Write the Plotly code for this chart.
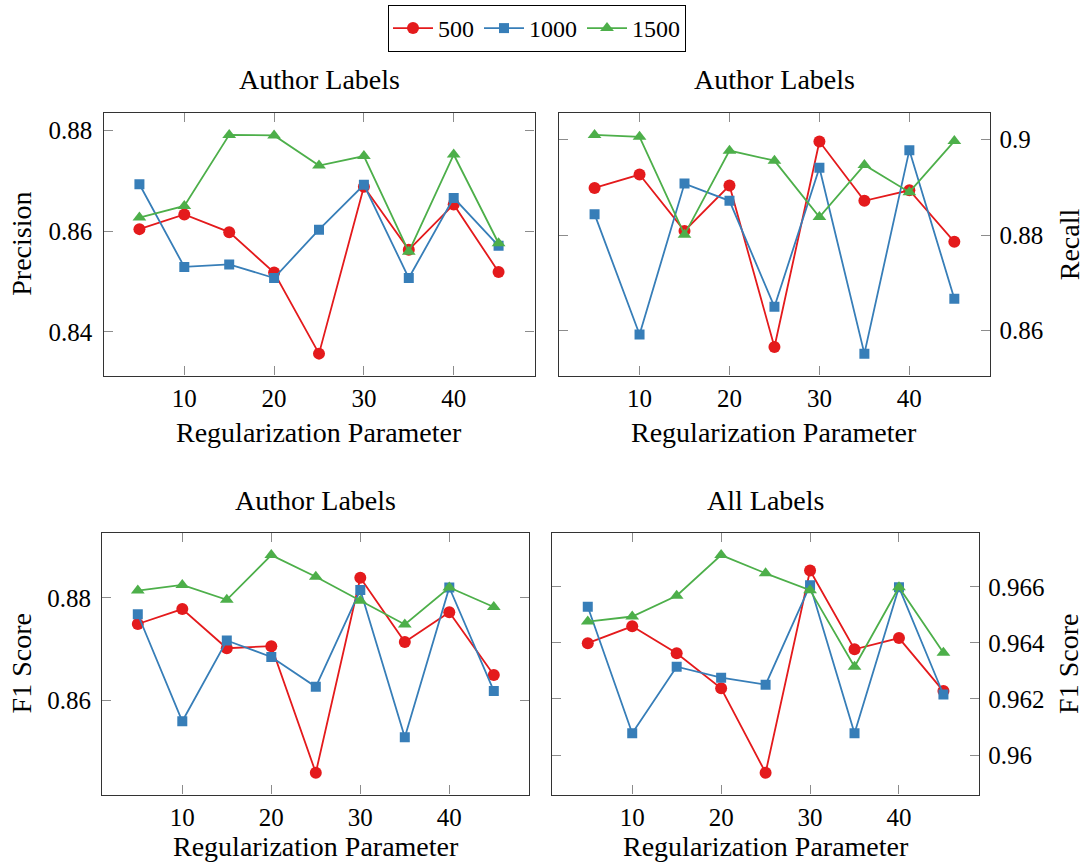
import plotly.graph_objects as go

W, H = 1088, 864

x_vals = [5, 10, 15, 20, 25, 30, 35, 40, 45]
series_names = ["500", "1000", "1500"]

precision_500 = [0.8604, 0.8633, 0.8598, 0.8518, 0.8357, 0.8688, 0.8563, 0.8653, 0.8519]
precision_1000 = [0.8693, 0.8529, 0.8534, 0.8507, 0.8603, 0.8692, 0.8507, 0.8666, 0.8571]
precision_1500 = [0.8627, 0.8650, 0.8791, 0.8790, 0.8730, 0.8749, 0.8559, 0.8752, 0.8576]

recall_500 = [0.8899, 0.8927, 0.8809, 0.8904, 0.8566, 0.8996, 0.8872, 0.8894, 0.8786]
recall_1000 = [0.8844, 0.8592, 0.8908, 0.8872, 0.8650, 0.8941, 0.8552, 0.8978, 0.8667]
recall_1500 = [0.9010, 0.9006, 0.8801, 0.8977, 0.8956, 0.8838, 0.8947, 0.8890, 0.8997]

f1_author_500 = [0.8749, 0.8778, 0.8702, 0.8706, 0.8460, 0.8839, 0.8714, 0.8772, 0.8650]
f1_author_1000 = [0.8768, 0.8560, 0.8717, 0.8685, 0.8627, 0.8815, 0.8529, 0.8820, 0.8619]
f1_author_1500 = [0.8814, 0.8825, 0.8796, 0.8883, 0.8841, 0.8794, 0.8748, 0.8820, 0.8782]

f1_all_500 = [0.96399, 0.96459, 0.96363, 0.96238, 0.95937, 0.96658, 0.96377, 0.96417, 0.96228]
f1_all_1000 = [0.96529, 0.96078, 0.96315, 0.96276, 0.96251, 0.96605, 0.96078, 0.96598, 0.96216]
f1_all_1500 = [0.96476, 0.96494, 0.96568, 0.96713, 0.96648, 0.96588, 0.96315, 0.96598, 0.96365]

x_ticks = [10, 20, 30, 40]
x_tick_text = ["10", "20", "30", "40"]
prec_ticks = [0.84, 0.86, 0.88]
prec_tick_text = ["0.84", "0.86", "0.88"]
rec_ticks = [0.86, 0.88, 0.90]
rec_tick_text = ["0.86", "0.88", "0.9"]
f1a_ticks = [0.86, 0.88]
f1a_tick_text = ["0.86", "0.88"]
f1b_ticks = [0.960, 0.962, 0.964, 0.966]
f1b_tick_text = ["0.96", "0.962", "0.964", "0.966"]

panel_titles = ["Author Labels", "Author Labels", "Author Labels", "All Labels"]
x_title = "Regularization Parameter"
y_titles = ["Precision", "Recall", "F1 Score", "F1 Score"]

colors = ["#e41a1c", "#377eb8", "#4daf4a"]
symbols = ["circle", "square", "triangle-up"]
msizes = [12, 10, 12]

FONT = "Liberation Serif"
TITLE_SIZE = 28
TICK_SIZE = 25

# panel boxes in pixels: (left, right, top, bottom)
panels = [
    dict(data=[precision_500, precision_1000, precision_1500], box=(103.5, 534.5, 113, 375.5),
         yt=prec_ticks, ytt=prec_tick_text, side="left", ytx=21.5, rowt=80, xtl=432),
    dict(data=[recall_500, recall_1000, recall_1500], box=(558.6, 990.3, 113, 375.5),
         yt=rec_ticks, ytt=rec_tick_text, side="right", ytx=1069, rowt=80, xtl=432),
    dict(data=[f1_author_500, f1_author_1000, f1_author_1500], box=(102.2, 529.4, 533.3, 794.5),
         yt=f1a_ticks, ytt=f1a_tick_text, side="left", ytx=21.5, rowt=500, xtl=846),
    dict(data=[f1_all_500, f1_all_1000, f1_all_1500], box=(552.2, 979, 533.3, 794.5),
         yt=f1b_ticks, ytt=f1b_tick_text, side="right", ytx=1069, rowt=500, xtl=846),
]

fig = go.Figure()
layout = dict(width=W, height=H, margin=dict(l=0, r=0, t=0, b=0, autoexpand=False),
              paper_bgcolor="white", plot_bgcolor="white",
              font=dict(family=FONT, size=TICK_SIZE, color="black"),
              showlegend=True, annotations=[])

for i, p in enumerate(panels):
    k = "" if i == 0 else str(i + 1)
    for j in range(3):
        fig.add_trace(go.Scatter(
            x=x_vals, y=p["data"][j], mode="lines+markers", name=series_names[j],
            legendgroup=series_names[j], showlegend=(i == 0),
            line=dict(color=colors[j], width=1.8),
            marker=dict(symbol=symbols[j], size=msizes[j], color=colors[j]),
            xaxis="x" + k, yaxis="y" + k))
    x0, x1, y0, y1 = p["box"]
    allv = [v for s in p["data"] for v in s]
    lo, hi = min(allv), max(allv)
    pad = 0.1 * (hi - lo)
    axcommon = dict(showgrid=False, zeroline=False, showline=True, linecolor="#333333",
                    linewidth=1.3, mirror="ticks", ticks="inside", ticklen=9,
                    tickcolor="#8c8c8c", tickwidth=1, automargin=False,
                    tickfont=dict(family=FONT, size=TICK_SIZE, color="black"))
    layout["xaxis" + k] = dict(axcommon, domain=[x0 / W, x1 / W], anchor="y" + k,
                               range=[1, 49], tickvals=x_ticks, ticktext=x_tick_text,
                               ticklabelstandoff=0)
    layout["yaxis" + k] = dict(axcommon, domain=[1 - y1 / H, 1 - y0 / H], anchor="x" + k,
                               range=[lo - pad, hi + pad], tickvals=p["yt"],
                               ticktext=p["ytt"], side=p["side"],
                               ticklabelstandoff=(5 if p["side"] == "left" else 3))
    xc = (x0 + x1) / 2 / W
    layout["annotations"].append(dict(
        text=panel_titles[i], x=xc, y=1 - p["rowt"] / H,
        xref="paper", yref="paper", xanchor="center", yanchor="middle",
        showarrow=False, font=dict(family=FONT, size=TITLE_SIZE, color="black")))
    layout["annotations"].append(dict(
        text=x_title, x=xc, y=1 - p["xtl"] / H,
        xref="paper", yref="paper", xanchor="center", yanchor="middle",
        showarrow=False, font=dict(family=FONT, size=TITLE_SIZE, color="black")))
    layout["annotations"].append(dict(
        text=y_titles[i], x=p["ytx"] / W, y=1 - (y0 + y1) / 2 / H,
        xref="paper", yref="paper", xanchor="center", yanchor="middle", textangle=-90,
        showarrow=False, font=dict(family=FONT, size=TITLE_SIZE, color="black")))

layout["legend"] = dict(orientation="h", x=537 / W, xanchor="center", y=1 - 5 / H, yanchor="top",
                        bordercolor="black", borderwidth=1, bgcolor="white",
                        font=dict(family=FONT, size=24), itemwidth=40,
                        tracegroupgap=0)
fig.update_layout(**layout)
fig.write_html("out.html", config={"displayModeBar": False},
               post_script="document.body.style.margin='0px';"
                           "document.body.style.overflow='hidden';")
